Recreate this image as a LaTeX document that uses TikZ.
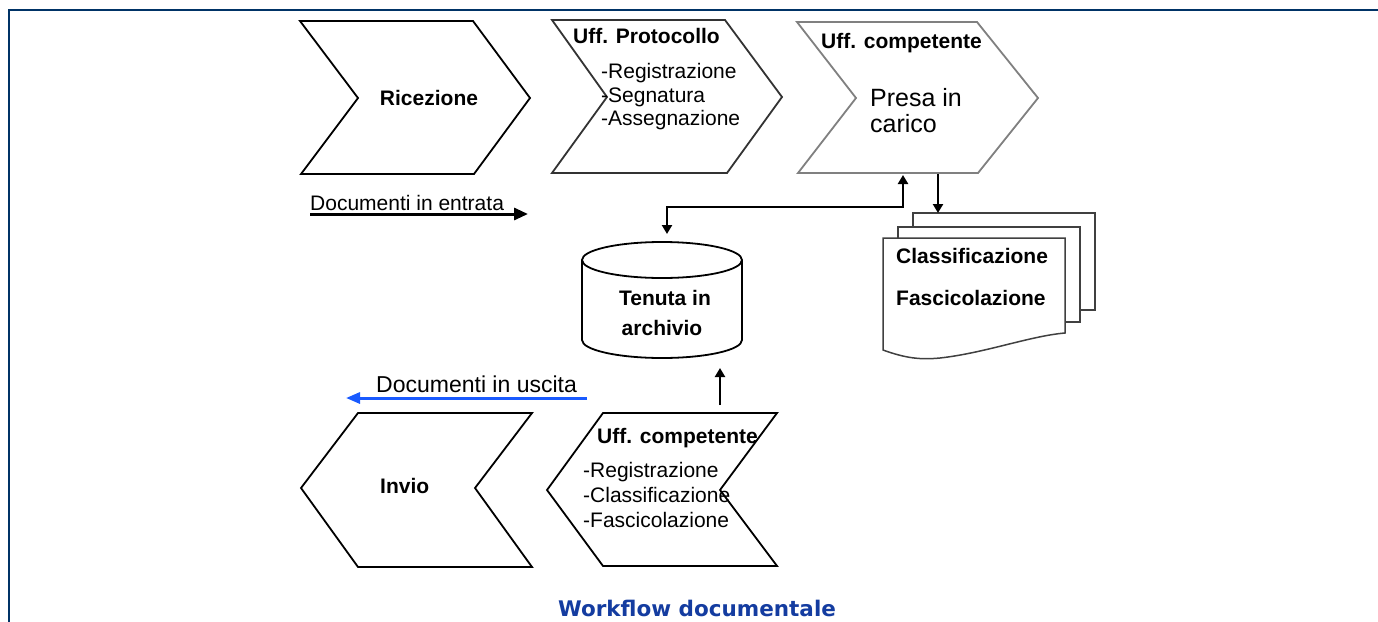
\documentclass[tikz,border=0pt]{standalone}
\usepackage{fontspec}
\setmainfont{Liberation Sans}
\newfontfamily\titlefont{DejaVu Sans}
\usetikzlibrary{arrows.meta}
\definecolor{framecol}{RGB}{0,51,102}
\definecolor{wfblue}{RGB}{20,60,160}
\definecolor{outblue}{RGB}{25,90,255}
\begin{document}
\begin{tikzpicture}[x=1pt,y=-1pt,
  chev/.style={line width=1.8pt, line join=miter, fill=white},
  lbl/.style={inner sep=0pt, anchor=base west, font=\fontsize{21}{24}\selectfont},
  blbl/.style={inner sep=0pt, anchor=base west, font=\fontsize{21}{24}\selectfont\bfseries},
  clbl/.style={inner sep=0pt, anchor=base, font=\fontsize{21}{24}\selectfont\bfseries},
  conn/.style={line width=2.6pt, -{Triangle[length=9pt,width=10pt]}},
  dconn/.style={line width=2.6pt, {Triangle[length=9pt,width=10pt]}-{Triangle[length=9pt,width=10pt]}},
  page/.style={line width=1.5pt, draw=black!75, fill=white}
]
\useasboundingbox (0,0) rectangle (1378,621);
% frame
\draw[framecol, line width=2.6pt] (9,622) -- (9,10) -- (1379,10);

% upper chevrons
\draw[chev, draw=black] (300,21) -- (473,21) -- (530,98) -- (474,174) -- (301,174) -- (358,98) -- cycle;
\draw[chev, draw=black!80] (552,20) -- (725,20) -- (782,97) -- (727,173) -- (552,173) -- (607,97) -- cycle;
\draw[chev, draw=black!50] (797,22) -- (977,22) -- (1038,98) -- (978,173) -- (798,173) -- (856,98) -- cycle;

% lower chevrons
\draw[chev, draw=black] (358,413) -- (532,413) -- (475,488) -- (532,567) -- (358,567) -- (301,488) -- cycle;
\draw[chev, draw=black] (603,413) -- (777,413) -- (720,490) -- (777,566) -- (603,566) -- (547,490) -- cycle;

% texts upper
\node[clbl] (ric) at (429,105) {Ricezione};
\node[blbl] (prot) at (573,43) {Uff. Protocollo};
\node[lbl] (p1) at (601,78) {-Registrazione};
\node[lbl] (p2) at (601,102) {-Segnatura};
\node[lbl] (p3) at (601,125) {-Assegnazione};
\node[blbl] (comp) at (821,48) {Uff. competente};
\node[lbl, font=\fontsize{25}{28}\selectfont] (presa) at (870,106) {Presa in};
\node[lbl, font=\fontsize{25}{28}\selectfont] (carico) at (870,132) {carico};

% document stack
\draw[page] (913,213) rectangle (1095,310);
\draw[page] (898,227) rectangle (1080,322);
\draw[page] (883,238) -- (1065,238) -- (1065,333)
  .. controls (1030,336) and (985,353) .. (940,358)
  .. controls (920,360) and (905,358) .. (883,350) -- cycle;
\node[blbl] (cls) at (896,263) {Classificazione};
\node[blbl] (fas) at (896,305) {Fascicolazione};

% cylinder
\draw[line width=1.8pt, fill=white] (582,260) -- (582,340) arc[start angle=180, end angle=0, x radius=80, y radius=18] -- (742,260);
\draw[line width=1.8pt] (662,260) ellipse[x radius=80, y radius=18];
\node[clbl] (ten) at (665,305) {Tenuta in};
\node[clbl] (arc) at (662,335) {archivio};

% documents in / out
\node[lbl, font=\fontsize{21}{24}\selectfont] (din) at (310,210) {Documenti in entrata};
\coordinate (ein0) at (310,214);
\coordinate (ein1) at (528,214);
\draw[line width=3pt, -{Triangle[length=14pt,width=12pt]}] (ein0) -- (ein1);

\node[lbl, font=\fontsize{23}{24}\selectfont] (dout) at (376,392) {Documenti in uscita};
\coordinate (eout0) at (587,398);
\coordinate (eout1) at (346,398);
\draw[outblue, line width=3pt, -{Triangle[length=14pt,width=11pt]}] (eout0) -- (eout1);

% lower texts
\node[blbl] (inv) at (380,493) {Invio};
\node[blbl] (comp2) at (597,443) {Uff. competente};
\node[lbl] (q1) at (583,477) {-Registrazione};
\node[lbl] (q2) at (583,502) {-Classificazione};
\node[lbl] (q3) at (583,527) {-Fascicolazione};

% connectors
\coordinate (archtop) at (667,234);
\coordinate (knee) at (667,207);
\coordinate (c3in) at (903,175);
\draw[dconn] (archtop) -- (knee) -| (c3in);
\coordinate (c3out) at (938,174);
\coordinate (stacktop) at (938,213);
\draw[conn] (c3out) -- (stacktop);
\coordinate (lowtop) at (720,405);
\coordinate (archbot) at (720,368);
\draw[conn] (lowtop) -- (archbot);

% title
\node[inner sep=0pt, anchor=base, text=wfblue, font=\titlefont\bfseries\fontsize{21.5}{24}\selectfont] (wf) at (697,616) {Workflow documentale};
\end{tikzpicture}
\end{document}
